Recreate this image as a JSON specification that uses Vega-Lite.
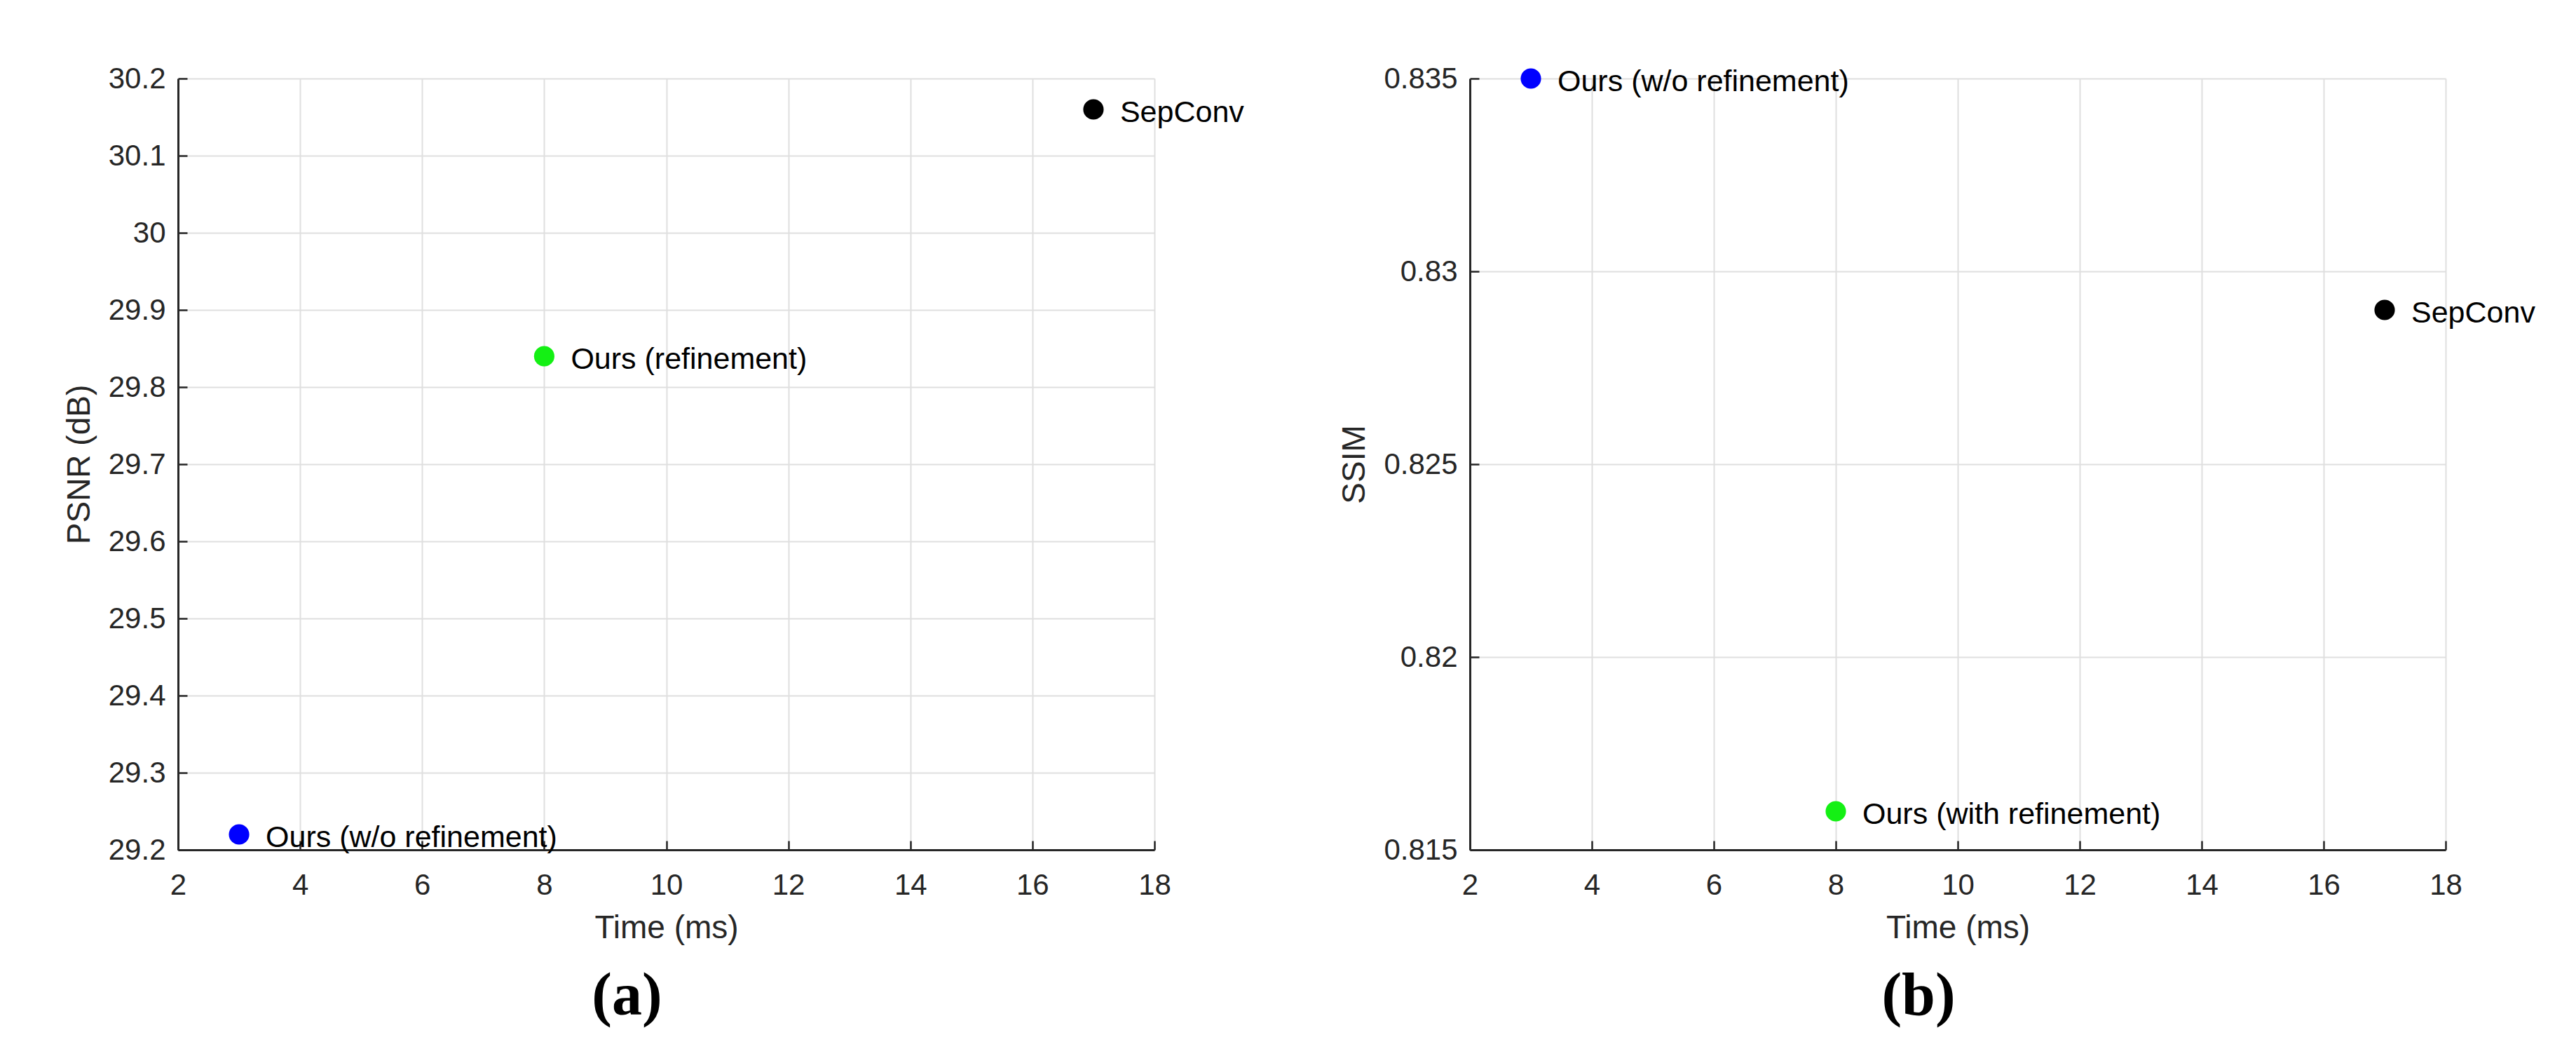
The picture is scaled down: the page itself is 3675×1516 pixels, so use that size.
{
  "$schema": "https://vega.github.io/schema/vega-lite/v6.json",
  "background": "white",
  "autosize": {"type": "pad"},
  "padding": {"left": 90, "top": 91, "right": 10, "bottom": 10},
  "config": {
    "view": {"stroke": null},
    "font": "Liberation Sans",
    "axis": {
      "domainColor": "#262626",
      "domainWidth": 3,
      "tickColor": "#262626",
      "tickWidth": 2.5,
      "tickSize": -13,
      "gridColor": "#dfdfdf",
      "gridWidth": 2,
      "gridOpacity": 1,
      "labelFont": "Liberation Sans",
      "labelFontSize": 42,
      "labelColor": "#262626",
      "labelFlush": false,
      "labelOverlap": false,
      "titleFont": "Liberation Sans",
      "titleFontSize": 46,
      "titleFontWeight": "normal",
      "titleColor": "#262626"
    },
    "axisX": {"labelPadding": 43, "titlePadding": 18},
    "axisY": {"labelPadding": 31, "titlePadding": 17}
  },
  "datasets": {
    "psnr": [
      {"time": 3, "value": 29.22, "method": "wo", "label": "Ours (w/o refinement)"},
      {"time": 8, "value": 29.84, "method": "with", "label": "Ours (refinement)"},
      {"time": 17, "value": 30.16, "method": "sep", "label": "SepConv"}
    ],
    "ssim": [
      {"time": 3, "value": 0.835, "method": "wo", "label": "Ours (w/o refinement)"},
      {"time": 8, "value": 0.816, "method": "with", "label": "Ours (with refinement)"},
      {"time": 17, "value": 0.829, "method": "sep", "label": "SepConv"}
    ]
  },
  "bounds": "flush",
  "spacing": 450,
  "hconcat": [
    {
      "width": 1393,
      "height": 1100,
      "data": {"name": "psnr"},
      "title": {
        "text": "(a)",
        "orient": "bottom",
        "anchor": "middle",
        "frame": "group",
        "font": "Liberation Serif",
        "fontWeight": "bold",
        "fontSize": 86,
        "color": "black",
        "offset": 33,
        "dx": -56
      },
      "encoding": {
        "x": {
          "field": "time",
          "type": "quantitative",
          "scale": {"domain": [2, 18], "nice": false, "zero": false},
          "axis": {"values": [2, 4, 6, 8, 10, 12, 14, 16, 18], "title": "Time (ms)"}
        },
        "y": {
          "field": "value",
          "type": "quantitative",
          "scale": {"domain": [29.2, 30.2], "nice": false, "zero": false},
          "axis": {
            "values": [29.2, 29.3, 29.4, 29.5, 29.6, 29.7, 29.8, 29.9, 30, 30.1, 30.2],
            "format": ".1~f",
            "title": "PSNR (dB)"
          }
        }
      },
      "layer": [
        {
          "mark": {"type": "circle", "size": 850, "opacity": 1, "clip": false},
          "encoding": {
            "color": {
              "field": "method",
              "type": "nominal",
              "scale": {"domain": ["wo", "with", "sep"], "range": ["#0000ff", "#14f014", "#000000"]},
              "legend": null
            }
          }
        },
        {
          "mark": {"type": "text", "align": "left", "baseline": "alphabetic", "dx": 38, "dy": 18, "fontSize": 43, "font": "Liberation Sans", "color": "black", "clip": false},
          "encoding": {"text": {"field": "label", "type": "nominal"}}
        }
      ]
    },
    {
      "width": 1392,
      "height": 1100,
      "data": {"name": "ssim"},
      "title": {
        "text": "(b)",
        "orient": "bottom",
        "anchor": "middle",
        "frame": "group",
        "font": "Liberation Serif",
        "fontWeight": "bold",
        "fontSize": 86,
        "color": "black",
        "offset": 33,
        "dx": -56
      },
      "encoding": {
        "x": {
          "field": "time",
          "type": "quantitative",
          "scale": {"domain": [2, 18], "nice": false, "zero": false},
          "axis": {"values": [2, 4, 6, 8, 10, 12, 14, 16, 18], "title": "Time (ms)"}
        },
        "y": {
          "field": "value",
          "type": "quantitative",
          "scale": {"domain": [0.815, 0.835], "nice": false, "zero": false},
          "axis": {
            "values": [0.815, 0.82, 0.825, 0.83, 0.835],
            "format": ".3~f",
            "title": "SSIM"
          }
        }
      },
      "layer": [
        {
          "mark": {"type": "circle", "size": 850, "opacity": 1, "clip": false},
          "encoding": {
            "color": {
              "field": "method",
              "type": "nominal",
              "scale": {"domain": ["wo", "with", "sep"], "range": ["#0000ff", "#14f014", "#000000"]},
              "legend": null
            }
          }
        },
        {
          "mark": {"type": "text", "align": "left", "baseline": "alphabetic", "dx": 38, "dy": 18, "fontSize": 43, "font": "Liberation Sans", "color": "black", "clip": false},
          "encoding": {"text": {"field": "label", "type": "nominal"}}
        }
      ]
    }
  ]
}
